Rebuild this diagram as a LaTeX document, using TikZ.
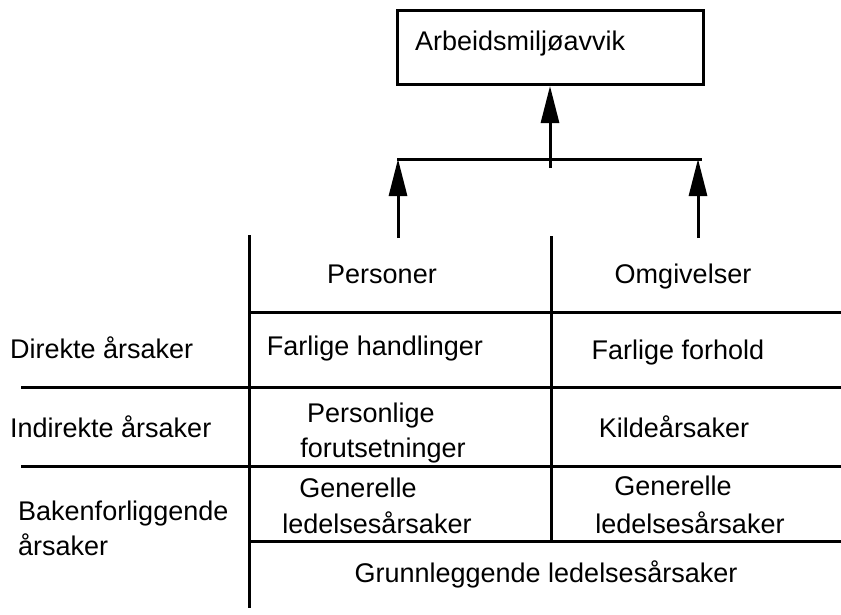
\documentclass[tikz,border=0pt]{standalone}
\usepackage{fontspec}
\setmainfont{Liberation Sans}
\usetikzlibrary{arrows.meta}
\begin{document}
\begin{tikzpicture}[x=1pt,y=-1pt,
  rule/.style={line width=3pt},
  uparrow/.style={line width=3pt,-{Triangle[length=37pt,width=18pt]}},
  txt/.style={anchor=base,inner sep=0pt,font=\fontsize{27}{31}\selectfont},
  txtl/.style={anchor=base west,inner sep=0pt,font=\fontsize{27}{31}\selectfont}]
\useasboundingbox (0,0) rectangle (841,614);

% top event box
\node[draw,line width=3pt,minimum width=306pt,minimum height=74pt,inner sep=0pt,anchor=north west] (top) at (396,9) {};
\node[txtl] (toplabel) at (415,50) {Arbeidsmiljøavvik};

% junction bar collecting the two branches
\coordinate (junc) at (550,168);
\coordinate (barW) at (397,159);
\coordinate (barE) at (702,159);
\coordinate (pTail) at (398,238);
\coordinate (oTail) at (698,238);
\draw[rule] (barW) -- (barE);
\draw[uparrow] (junc) -- (junc |- top.south);
\draw[uparrow] (pTail) -- (pTail |- barW);
\draw[uparrow] (oTail) -- (oTail |- barE);

% table rules
\coordinate (colA) at (249,235);
\coordinate (colAend) at (249,608);
\coordinate (colB) at (551,236);
\coordinate (colBend) at (551,542);
\draw[rule] (colA) -- (colAend);
\draw[rule] (colB) -- (colBend);
\coordinate (r1W) at (249,312);  \coordinate (r1E) at (841,312);
\coordinate (r2W) at (21,387);   \coordinate (r2E) at (841,387);
\coordinate (r3W) at (21,466);   \coordinate (r3E) at (841,466);
\coordinate (r4W) at (249,541);  \coordinate (r4E) at (841,541);
\draw[rule] (r1W) -- (r1E);
\draw[rule] (r2W) -- (r2E);
\draw[rule] (r3W) -- (r3E);
\draw[rule] (r4W) -- (r4E);

% column headings
\node[txt] (pers) at (382,283) {Personer};
\node[txt] (omg) at (683,283) {Omgivelser};

% row headings
\node[txtl] (dir) at (10,358) {Direkte årsaker};
\node[txtl] (indir) at (10,437) {Indirekte årsaker};
\node[txtl] (bak1) at (18,520) {Bakenforliggende};
\node[txtl] (bak2) at (18,555) {årsaker};

% cells
\node[txt] (farh) at (375,355) {Farlige handlinger};
\node[txt] (farf) at (678,359) {Farlige forhold};
\node[txt] (pf1) at (371,422) {Personlige};
\node[txt] (pf2) at (383,457) {forutsetninger};
\node[txt] (kilde) at (674,437) {Kildeårsaker};
\node[txt] (genP1) at (358,497) {Generelle};
\node[txt] (genP2) at (377,533) {ledelsesårsaker};
\node[txt] (genO1) at (673,495) {Generelle};
\node[txt] (genO2) at (690,533) {ledelsesårsaker};
\node[txt] (grunn) at (546,582) {Grunnleggende ledelsesårsaker};
\end{tikzpicture}
\end{document}
